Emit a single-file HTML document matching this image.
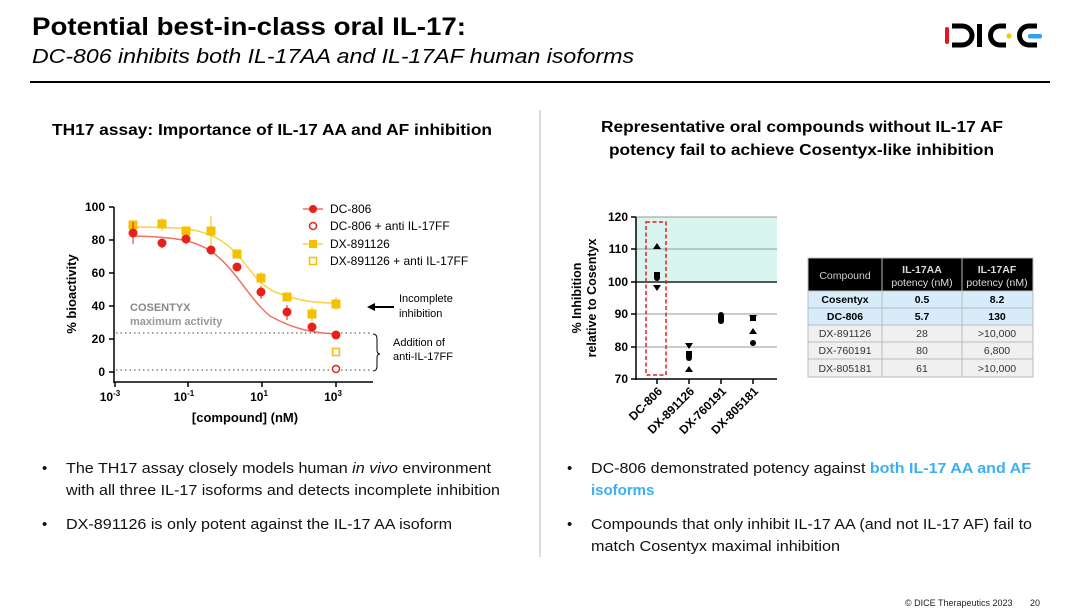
<!DOCTYPE html>
<html><head><meta charset="utf-8"><style>
html,body{margin:0;padding:0;background:#fff;}
svg{display:block;font-family:"Liberation Sans",Arial,sans-serif;}
</style></head><body>
<svg width="1080" height="610" viewBox="0 0 1080 610" xmlns="http://www.w3.org/2000/svg">
<!-- Title -->
<text x="32" y="35" font-size="25" font-weight="bold" fill="#000" textLength="434" lengthAdjust="spacingAndGlyphs">Potential best-in-class oral IL-17:</text>
<text x="32" y="63" font-size="20" font-style="italic" fill="#000" textLength="602" lengthAdjust="spacingAndGlyphs">DC-806 inhibits both IL-17AA and IL-17AF human isoforms</text>
<line x1="30" y1="82" x2="1050" y2="82" stroke="#000" stroke-width="2"/>
<!-- DICE logo -->
<g>
<rect x="945" y="27" width="4" height="17" rx="2" fill="#e8141c"/>
<path d="M952 26 h10 a10 9.5 0 0 1 0 19 h-10" fill="none" stroke="#000" stroke-width="5"/>
<rect x="977" y="24" width="5" height="23" fill="#000"/>
<path d="M1006 26 h-6 a9.5 9.5 0 0 0 0 19 h6" fill="none" stroke="#000" stroke-width="5"/>
<circle cx="1009" cy="36" r="2.6" fill="#f5c800"/>
<path d="M1037 26 h-8 a9.5 9.5 0 0 0 0 19 h8" fill="none" stroke="#000" stroke-width="5"/>
<rect x="1028" y="34" width="14" height="4.5" rx="2" fill="#2ea3f2"/>
</g>
<!-- divider -->
<line x1="540" y1="110" x2="540" y2="557" stroke="#d0d0d0" stroke-width="1.5"/>

<!-- Left heading -->
<text x="52" y="135" font-size="16" font-weight="bold" textLength="440" lengthAdjust="spacingAndGlyphs">TH17 assay: Importance of IL-17 AA and AF inhibition</text>

<!-- Left chart -->
<g font-size="12" font-weight="bold">
<line x1="114" y1="207" x2="114" y2="383" stroke="#000" stroke-width="1.5"/>
<line x1="114" y1="382" x2="373" y2="382" stroke="#000" stroke-width="1.5"/>
<g stroke="#000" stroke-width="1.5">
<line x1="109" y1="207" x2="114" y2="207"/><line x1="109" y1="240" x2="114" y2="240"/><line x1="109" y1="273" x2="114" y2="273"/><line x1="109" y1="306" x2="114" y2="306"/><line x1="109" y1="339" x2="114" y2="339"/><line x1="109" y1="372" x2="114" y2="372"/>
<line x1="115" y1="382" x2="115" y2="387"/><line x1="188" y1="382" x2="188" y2="387"/><line x1="262" y1="382" x2="262" y2="387"/><line x1="336" y1="382" x2="336" y2="387"/>
</g>
<text x="105" y="211" text-anchor="end">100</text>
<text x="105" y="244" text-anchor="end">80</text>
<text x="105" y="277" text-anchor="end">60</text>
<text x="105" y="310" text-anchor="end">40</text>
<text x="105" y="343" text-anchor="end">20</text>
<text x="105" y="376" text-anchor="end">0</text>
<text x="110" y="401" text-anchor="middle">10<tspan font-size="8" dy="-5">-3</tspan></text>
<text x="184" y="401" text-anchor="middle">10<tspan font-size="8" dy="-5">-1</tspan></text>
<text x="259" y="401" text-anchor="middle">10<tspan font-size="8" dy="-5">1</tspan></text>
<text x="333" y="401" text-anchor="middle">10<tspan font-size="8" dy="-5">3</tspan></text>
<text x="245" y="422" text-anchor="middle" font-size="13">[compound] (nM)</text>
<text transform="translate(76,294) rotate(-90)" text-anchor="middle" font-size="13">% bioactivity</text>
</g>
<text x="130" y="311" font-size="11" font-weight="bold" fill="#888">COSENTYX</text>
<text x="130" y="325" font-size="11" font-weight="bold" fill="#999">maximum activity</text>
<line x1="116" y1="333" x2="372" y2="333" stroke="#444" stroke-dasharray="1.5,3"/>
<line x1="116" y1="370" x2="372" y2="370" stroke="#444" stroke-dasharray="1.5,3"/>
<path d="M373 334 q4 0 4 5 v11 q0 4 3 4 q-3 0 -3 4 v8 q0 5 -4 5" fill="none" stroke="#000" stroke-width="1"/>
<text x="393" y="346" font-size="11">Addition of</text>
<text x="393" y="360" font-size="11">anti-IL-17FF</text>
<text x="399" y="302" font-size="11">Incomplete</text>
<text x="399" y="317" font-size="11">inhibition</text>
<line x1="372" y1="307" x2="394" y2="307" stroke="#000" stroke-width="2"/>
<path d="M367 307 l8 -4 v8 z" fill="#000"/>
<!-- curves -->
<path d="M133 227 C180 227 200 228 220 240 C245 255 250 280 275 292 C300 302 320 303 336 303" fill="none" stroke="#f7d24a" stroke-width="1.5"/>
<path d="M133 236 C175 237 195 240 212 252 C235 268 250 300 270 316 C295 330 315 333 336 334" fill="none" stroke="#f07060" stroke-width="1.5"/>
<!-- yellow points -->
<g fill="#f5c000" stroke="#f5c000">
<line x1="133" y1="220" x2="133" y2="230"/><line x1="162" y1="218" x2="162" y2="231"/><line x1="211" y1="216" x2="211" y2="247"/><line x1="261" y1="272" x2="261" y2="284"/><line x1="336" y1="297" x2="336" y2="310"/><line x1="312" y1="307" x2="312" y2="321"/>
<rect x="129" y="221" width="8" height="8"/><rect x="158" y="220" width="8" height="8"/><rect x="182" y="227" width="8" height="8"/><rect x="207" y="227" width="8" height="8"/><rect x="233" y="250" width="8" height="8"/><rect x="257" y="274" width="8" height="8"/><rect x="283" y="293" width="8" height="8"/><rect x="308" y="310" width="8" height="8"/><rect x="332" y="300" width="8" height="8"/>
</g>
<rect x="332.5" y="348.5" width="7" height="7" fill="#fff" stroke="#f5c000" stroke-width="1.5"/>
<!-- red points -->
<g fill="#e8201c" stroke="#e8201c">
<line x1="133" y1="222" x2="133" y2="244"/><line x1="162" y1="239" x2="162" y2="248"/><line x1="186" y1="235" x2="186" y2="244"/><line x1="261" y1="286" x2="261" y2="299"/><line x1="287" y1="305" x2="287" y2="320"/>
<circle cx="133" cy="233" r="4"/><circle cx="162" cy="243" r="4"/><circle cx="186" cy="239" r="4"/><circle cx="211" cy="250" r="4"/><circle cx="237" cy="267" r="4"/><circle cx="261" cy="292" r="4"/><circle cx="287" cy="312" r="4"/><circle cx="312" cy="327" r="4"/><circle cx="336" cy="335" r="4"/>
</g>
<circle cx="336" cy="369" r="3.5" fill="#fff" stroke="#e8201c" stroke-width="1.5"/>
<!-- legend -->
<g font-size="12">
<line x1="303" y1="209" x2="323" y2="209" stroke="#f07060" stroke-width="1.5"/><circle cx="313" cy="209" r="4" fill="#e8201c"/>
<text x="330" y="213">DC-806</text>
<circle cx="313" cy="226" r="3.5" fill="#fff" stroke="#e8201c" stroke-width="1.5"/>
<text x="330" y="230">DC-806 + anti IL-17FF</text>
<line x1="303" y1="244" x2="323" y2="244" stroke="#f7d24a" stroke-width="1.5"/><rect x="309" y="240" width="8" height="8" fill="#f5c000"/>
<text x="330" y="248">DX-891126</text>
<rect x="309.5" y="257.5" width="7" height="7" fill="#fff" stroke="#f5c000" stroke-width="1.5"/>
<text x="330" y="265">DX-891126 + anti IL-17FF</text>
</g>

<!-- Right heading -->
<text x="601" y="132" font-size="16" font-weight="bold" textLength="402" lengthAdjust="spacingAndGlyphs">Representative oral compounds without IL-17 AF</text>
<text x="609" y="155" font-size="16" font-weight="bold" textLength="385" lengthAdjust="spacingAndGlyphs">potency fail to achieve Cosentyx-like inhibition</text>

<!-- Right chart -->
<rect x="636" y="217" width="141" height="65" fill="#d9f5ef"/>
<g stroke="#999" stroke-width="1">
<line x1="636" y1="217" x2="777" y2="217"/><line x1="636" y1="249" x2="777" y2="249"/><line x1="636" y1="314" x2="777" y2="314"/><line x1="636" y1="347" x2="777" y2="347"/>
</g>
<line x1="636" y1="282" x2="777" y2="282" stroke="#555" stroke-width="2"/>
<line x1="636" y1="217" x2="636" y2="380" stroke="#000" stroke-width="1.5"/>
<line x1="636" y1="379" x2="777" y2="379" stroke="#000" stroke-width="1.5"/>
<g stroke="#000" stroke-width="1.5">
<line x1="631" y1="217" x2="636" y2="217"/><line x1="631" y1="249" x2="636" y2="249"/><line x1="631" y1="282" x2="636" y2="282"/><line x1="631" y1="314" x2="636" y2="314"/><line x1="631" y1="347" x2="636" y2="347"/><line x1="631" y1="379" x2="636" y2="379"/>
<line x1="657" y1="379" x2="657" y2="384"/><line x1="689" y1="379" x2="689" y2="384"/><line x1="721" y1="379" x2="721" y2="384"/><line x1="753" y1="379" x2="753" y2="384"/>
</g>
<g font-size="12" font-weight="bold" text-anchor="end">
<text x="628" y="221">120</text><text x="628" y="253">110</text><text x="628" y="286">100</text><text x="628" y="318">90</text><text x="628" y="351">80</text><text x="628" y="383">70</text>
<text transform="translate(663,392) rotate(-45)">DC-806</text>
<text transform="translate(695,392) rotate(-45)">DX-891126</text>
<text transform="translate(727,392) rotate(-45)">DX-760191</text>
<text transform="translate(759,392) rotate(-45)">DX-805181</text>
</g>
<g font-size="12.5" font-weight="bold" text-anchor="middle">
<text transform="translate(581,298) rotate(-90)">% Inhibition</text>
<text transform="translate(596,298) rotate(-90)">relative to Cosentyx</text>
</g>
<rect x="646" y="222" width="20" height="153" fill="none" stroke="#e8201c" stroke-width="1.5" stroke-dasharray="4,2.5"/>
<g fill="#000">
<path d="M657 243 l-4 6 h8 z"/><circle cx="657" cy="275" r="3"/><rect x="654" y="272" width="6" height="6"/><circle cx="657" cy="278" r="3"/><path d="M653 285 h8 l-4 6 z"/>
<path d="M689 343 h8 l-4 6 z" transform="translate(-4,0)"/><rect x="686" y="351" width="6" height="6"/><circle cx="689" cy="358" r="3"/><path d="M689 366 l-4 6 h8 z"/>
<circle cx="721" cy="315" r="3"/><rect x="718" y="316" width="6" height="6"/><circle cx="721" cy="321" r="3"/>
<path d="M749 315 h8 l-4 6 z"/><rect x="750" y="316" width="6" height="5"/><path d="M753 328 l-4 6 h8 z"/><circle cx="753" cy="343" r="3"/>
</g>

<!-- Table -->
<g font-size="10.5" text-anchor="middle">
<rect x="808" y="258" width="225" height="33" fill="#000"/>
<rect x="808" y="291" width="225" height="34" fill="#d6ecfa"/>
<rect x="808" y="325" width="225" height="52" fill="#f0f0f0"/>
<g stroke="#bbb" stroke-width="1" fill="none">
<rect x="808" y="258" width="225" height="119"/>
<line x1="882" y1="258" x2="882" y2="377"/><line x1="962" y1="258" x2="962" y2="377"/>
<line x1="808" y1="291" x2="1033" y2="291"/><line x1="808" y1="308" x2="1033" y2="308"/><line x1="808" y1="325" x2="1033" y2="325"/><line x1="808" y1="342" x2="1033" y2="342"/><line x1="808" y1="359" x2="1033" y2="359"/>
</g>
<text x="845" y="279" fill="#ccc">Compound</text>
<text x="922" y="273" fill="#ddd" font-weight="bold">IL-17AA</text><text x="922" y="286" fill="#ddd">potency (nM)</text>
<text x="997" y="273" fill="#ddd" font-weight="bold">IL-17AF</text><text x="997" y="286" fill="#ddd">potency (nM)</text>
<g font-weight="bold"><text x="845" y="303">Cosentyx</text><text x="922" y="303">0.5</text><text x="997" y="303">8.2</text>
<text x="845" y="320">DC-806</text><text x="922" y="320">5.7</text><text x="997" y="320">130</text></g>
<g fill="#333"><text x="845" y="337">DX-891126</text><text x="922" y="337">28</text><text x="997" y="337">&gt;10,000</text>
<text x="845" y="354">DX-760191</text><text x="922" y="354">80</text><text x="997" y="354">6,800</text>
<text x="845" y="372">DX-805181</text><text x="922" y="372">61</text><text x="997" y="372">&gt;10,000</text></g>
</g>

<!-- Bullets -->
<g font-size="15" fill="#111">
<text x="42" y="473">•</text>
<text x="66" y="473" textLength="425" lengthAdjust="spacingAndGlyphs">The TH17 assay closely models human <tspan font-style="italic">in vivo</tspan> environment</text>
<text x="66" y="495" textLength="434" lengthAdjust="spacingAndGlyphs">with all three IL-17 isoforms and detects incomplete inhibition</text>
<text x="42" y="529">•</text>
<text x="66" y="529" textLength="386" lengthAdjust="spacingAndGlyphs">DX-891126 is only potent against the IL-17 AA isoform</text>
<text x="567" y="473">•</text>
<text x="591" y="473" textLength="440" lengthAdjust="spacingAndGlyphs">DC-806 demonstrated potency against <tspan fill="#3bb0f0" font-weight="bold">both IL-17 AA and AF</tspan></text>
<text x="591" y="495" fill="#3bb0f0" font-weight="bold">isoforms</text>
<text x="567" y="529">•</text>
<text x="591" y="529" textLength="441" lengthAdjust="spacingAndGlyphs">Compounds that only inhibit IL-17 AA (and not IL-17 AF) fail to</text>
<text x="591" y="551" textLength="249" lengthAdjust="spacingAndGlyphs">match Cosentyx maximal inhibition</text>
</g>
<text x="905" y="606" font-size="9" fill="#222">© DICE Therapeutics 2023</text>
<text x="1030" y="606" font-size="9" fill="#222">20</text>
</svg>
</body></html>
